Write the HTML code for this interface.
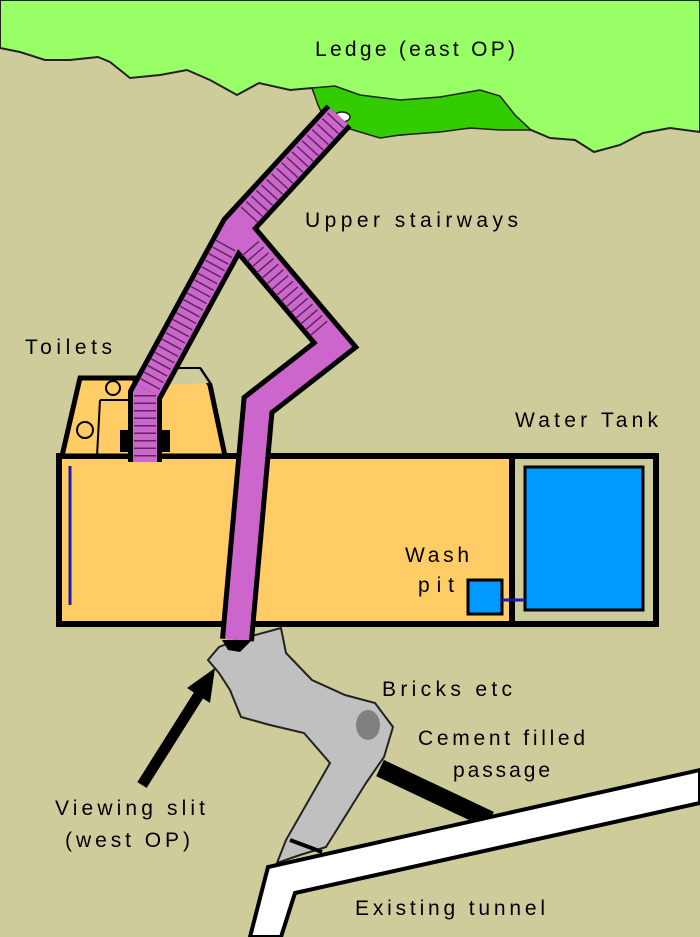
<!DOCTYPE html>
<html><head><style>html,body{margin:0;padding:0;background:#cfcc9c}svg{display:block}</style></head>
<body>
<svg width="700" height="937" viewBox="0 0 700 937" xmlns="http://www.w3.org/2000/svg" font-family="Liberation Sans, sans-serif" font-size="21">
<rect width="700" height="937" fill="#cfcc9c"/>
<path d="M0,0 H700 V132 L670,128 L643,133 L620,145 L594,152 L575,140 L550,138 L531,130 L500,125 L470,128 L440,130 L400,135 L370,125 L330,128 L312,88 L290,90 L259,83 L237,95 L210,80 L187,70 L160,75 L130,78 L110,62 L98,57 L70,60 L45,60 L20,52 L0,48 Z" fill="#99ff66" stroke="#222" stroke-width="2"/>
<path d="M312,88 L335,86 L360,95 L400,100 L440,97 L480,90 L500,96 L515,115 L531,130 L500,130 L470,128 L440,132 L400,135 L380,138 L360,132 L340,126 L325,120 L318,105 Z" fill="#33cc00" stroke="#222" stroke-width="1.5"/>
<ellipse cx="342" cy="117" rx="8" ry="5" fill="#fff" stroke="#222" stroke-width="1.5"/>
<rect x="59" y="456" width="597" height="168" fill="#ffcc66" stroke="#000" stroke-width="6"/>
<rect x="512" y="456" width="144" height="168" fill="#cfcc9c" stroke="#000" stroke-width="6"/>
<rect x="525" y="467" width="118" height="143" fill="#0099ff" stroke="#000" stroke-width="3"/>
<path d="M62,456 L80,378 L135,378 L135,385 L160,385 L175,370 L200,370 L210,385 L225,456 Z" fill="#ffcc66" stroke="#000" stroke-width="5"/>
<path d="M160,385 L175,368 L200,368 L210,383" fill="#cfcc9c" stroke="#000" stroke-width="2"/>
<line x1="100" y1="400" x2="135" y2="400" stroke="#000" stroke-width="2"/>
<line x1="100" y1="400" x2="97" y2="456" stroke="#000" stroke-width="2"/>
<circle cx="113" cy="388" r="7" fill="#ffcc66" stroke="#000" stroke-width="2"/>
<circle cx="85" cy="430" r="8" fill="#ffcc66" stroke="#000" stroke-width="2"/>
<rect x="120" y="430" width="50" height="22" fill="#000"/>
<line x1="70" y1="466" x2="70" y2="605" stroke="#1a1aaa" stroke-width="3"/>
<rect x="468" y="580" width="34" height="34" fill="#0099ff" stroke="#000" stroke-width="3"/>
<line x1="502" y1="600" x2="525" y2="600" stroke="#1a1aaa" stroke-width="3"/>
<path d="M219,647 L237,640 L281,628 L286,653 L312,680 L345,695 L375,703 L393,727 L384,757 L366,783 L326,847 L300,855 L277,863 L286,840 L330,763 L304,733 L270,725 L241,717 L230,690 L219,673 L208,660 Z" fill="#c0c0c0" stroke="#222" stroke-width="2"/>
<ellipse cx="368" cy="725" rx="12" ry="15" fill="#555" opacity="0.6"/>
<line x1="290" y1="840" x2="322" y2="852" stroke="#000" stroke-width="4"/>
<line x1="380" y1="768" x2="490" y2="820" stroke="#000" stroke-width="18"/>
<g fill="none" stroke-linejoin="miter">
<polyline points="339,116 236,228 145,395 145,462" stroke="#000" stroke-width="34"/>
<polyline points="236,228 335,345 258,405 237,640" stroke="#000" stroke-width="34"/>
<polyline points="339,116 236,228 145,395 145,462" stroke="#cc66cc" stroke-width="24"/>
<polyline points="236,228 335,345 258,405 237,640" stroke="#cc66cc" stroke-width="24"/>
<line x1="336" y1="120" x2="246" y2="218" stroke="#5a2a5a" stroke-width="22" stroke-dasharray="1.5 6"/>
<line x1="226" y1="245" x2="147" y2="390" stroke="#5a2a5a" stroke-width="22" stroke-dasharray="1.5 6"/>
<line x1="145" y1="395" x2="145" y2="460" stroke="#5a2a5a" stroke-width="22" stroke-dasharray="1.5 6"/>
<line x1="250" y1="248" x2="322" y2="332" stroke="#5a2a5a" stroke-width="22" stroke-dasharray="1.5 6"/>
</g>
<path d="M222,640 L252,640 L240,652 L228,650 Z" fill="#000"/>
<line x1="142" y1="785" x2="200" y2="693" stroke="#000" stroke-width="11"/>
<path d="M215,668 L187,688 L210,703 Z" fill="#000"/>
<path d="M250,937 L268,867 L700,770 L700,803 L295,893 L281,937 Z" fill="#fff" stroke="#000" stroke-width="4"/>
<g fill="#000">
<text x="315" y="56" textLength="200">Ledge (east OP)</text>
<text x="305" y="227" textLength="213">Upper stairways</text>
<text x="25" y="354" textLength="87">Toilets</text>
<text x="515" y="427" textLength="143">Water Tank</text>
<text x="405" y="562" textLength="64">Wash</text>
<text x="418" y="592" textLength="36">pit</text>
<text x="382" y="696" textLength="130">Bricks etc</text>
<text x="418" y="745" textLength="167">Cement filled</text>
<text x="453" y="777" textLength="97">passage</text>
<text x="55" y="815" textLength="150">Viewing slit</text>
<text x="65" y="847" textLength="125">(west OP)</text>
<text x="355" y="915" textLength="190">Existing tunnel</text>
</g>
</svg>
</body></html>
